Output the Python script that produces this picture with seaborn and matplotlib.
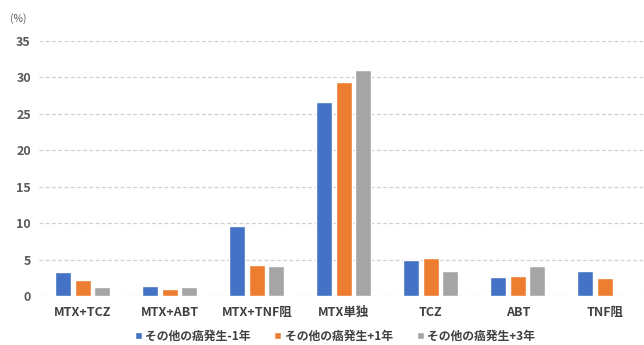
import numpy as np
import pandas as pd
import matplotlib
matplotlib.use("Agg")
import matplotlib.pyplot as plt
import seaborn as sns

categories = ["MTX+TCZ", "MTX+ABT", "MTX+TNF阻", "MTX単独", "TCZ", "ABT", "TNF阻"]
series_names = ["その他の癌発生-1年", "その他の癌発生+1年", "その他の癌発生+3年"]
minus1 = [3.3, 1.4, 9.6, 26.6, 5.0, 2.6, 3.4]
plus1 = [2.2, 0.9, 4.3, 29.4, 5.2, 2.8, 2.5]
plus3 = [1.2, 1.2, 4.1, 31.0, 3.4, 4.1, np.nan]
colors = ["#4472C4", "#ED7D31", "#A5A5A5"]
yticks = [0, 5, 10, 15, 20, 25, 30, 35]

sns.set_theme(style="white")
plt.rcParams["font.family"] = ["Noto Sans CJK JP", "DejaVu Sans"]

rows = []
for name, vals in zip(series_names, [minus1, plus1, plus3]):
    for c, v in zip(categories, vals):
        rows.append({"category": c, "series": name, "value": v})
df = pd.DataFrame(rows)

fig = plt.figure(figsize=(6.44, 3.45), dpi=100)
ax = fig.add_axes([0.061, 0.142, 0.939, 0.739])

sns.barplot(data=df, x="category", y="value", hue="series",
            order=categories, hue_order=series_names, palette=colors,
            width=0.67, gap=0.18, saturation=1, ax=ax, legend=True)

ax.set_ylim(0, 35)
ax.set_xlim(-0.5, 6.45)
ax.set_yticks(yticks)
ax.set_yticklabels([str(t) for t in yticks])
ax.yaxis.grid(True, linestyle=(0, (3, 2)), color="#d0d0d0", linewidth=0.9)
ax.set_axisbelow(True)
for s in ax.spines.values():
    s.set_visible(False)
ax.set_xlabel("")
ax.set_ylabel("")
ax.tick_params(axis="both", length=0)
ax.tick_params(axis="y", pad=6, labelsize=9, labelcolor="#595959")
ax.tick_params(axis="x", pad=7, labelsize=9, labelcolor="#404040")
for lab in ax.get_xticklabels() + ax.get_yticklabels():
    lab.set_fontweight("bold")

fig.text(0.016, 0.945, "(%)", fontsize=7.5, color="#595959", ha="left", va="center")

handles, labels = ax.get_legend_handles_labels()
ax.legend_.remove()
leg = fig.legend(handles, labels, loc="center", bbox_to_anchor=(0.52, 0.025),
                 ncol=3, frameon=False, fontsize=8.5, handlelength=0.6,
                 handleheight=0.6, handletextpad=0.3, columnspacing=2.0)
for t in leg.get_texts():
    t.set_color("#404040")
    t.set_fontweight("bold")

fig.savefig("out.png", dpi=100, facecolor="white")
